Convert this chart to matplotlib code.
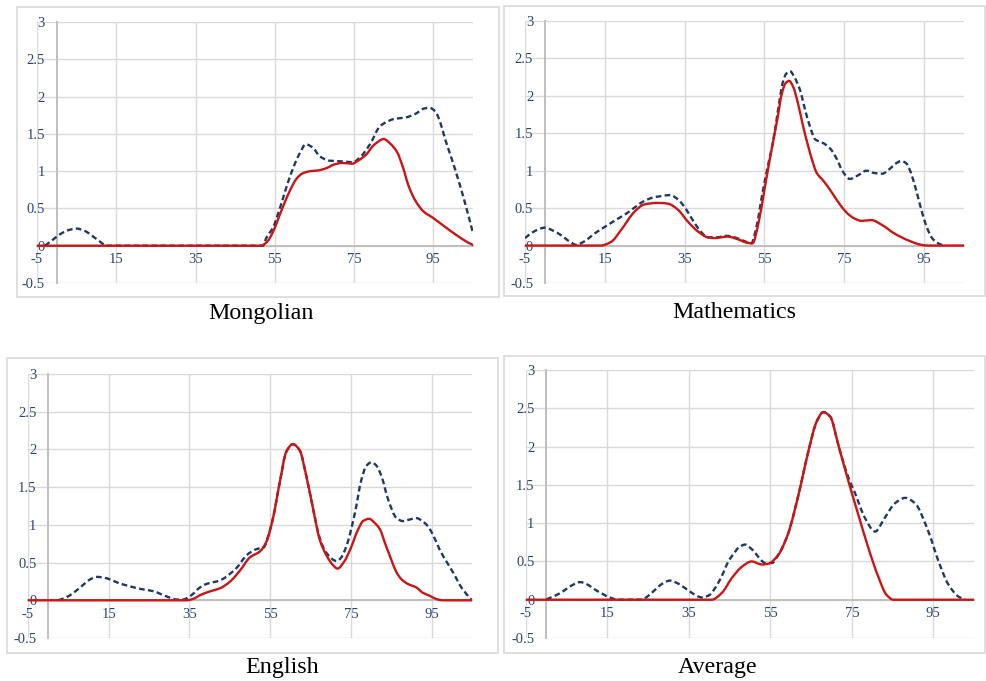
import matplotlib
matplotlib.use("Agg")
import numpy as np
import matplotlib.pyplot as plt
from matplotlib.patches import Rectangle, PathPatch
from matplotlib.path import Path

plt.rcParams['font.family'] = ['Liberation Serif', 'DejaVu Serif']

# density curves per subject: dashed = all students, solid = sample group
mong_dash_x = [-3, -1, 1, 3, 5, 7, 9, 11, 12.5, 52, 52.9, 54.5, 56.2, 57.9, 59.6, 61.3, 62.8, 64.7, 66.3,
               68.9, 72.2, 74.7, 76.4, 79, 81.5, 83.2, 85.1, 88, 90.2, 92.7, 94, 95.5, 96.7, 97.9, 99.6,
               101.2, 102.9, 104.6, 105]
mong_dash_y = [0.0, 0.08, 0.16, 0.21, 0.23, 0.2, 0.13, 0.05, 0.0, 0.0, 0.11, 0.24, 0.49, 0.78, 1.04, 1.24,
               1.36, 1.31, 1.2, 1.14, 1.13, 1.12, 1.18, 1.36, 1.6, 1.66, 1.7, 1.72, 1.76, 1.84, 1.85, 1.8,
               1.66, 1.44, 1.17, 0.9, 0.59, 0.25, 0.17]
mong_red_x = [-5, 51.5, 53, 54.5, 56, 57.5, 59, 60.5, 62, 64, 66, 68, 70, 72, 74.5, 76, 78, 80, 82.5,
              84.1, 85.8, 87.4, 88.7, 90.4, 92.5, 95, 98, 100.9, 103.5, 105]
mong_red_y = [0.0, 0.0, 0.05, 0.18, 0.38, 0.58, 0.76, 0.9, 0.97, 1.0, 1.01, 1.04, 1.09, 1.11, 1.1, 1.14,
              1.22, 1.35, 1.43, 1.37, 1.26, 1.04, 0.81, 0.61, 0.46, 0.37, 0.25, 0.14, 0.05, 0.01]

math_dash_x = [-5, -3, -1, 0, 2, 4, 6, 7.8, 10, 12.4, 15, 18, 20.75, 23, 25, 27, 29, 31.5, 33, 34.5, 36,
               37.5, 39, 40.8, 43, 45.5, 47.5, 49.5, 51.7, 53, 54.5, 56, 57.2, 58.4, 59.7, 60.5, 61.4,
               62.5, 63.9, 65.2, 66.4, 67.7, 69.7, 71.4, 73.2, 74.5, 76.4, 78.5, 80.5, 82.5, 84.5, 86.5,
               88, 89.3, 90.5, 91.5, 92.7, 94.3, 95.5, 97, 98.5, 100]
math_dash_y = [0.1, 0.18, 0.23, 0.24, 0.2, 0.14, 0.06, 0.01, 0.06, 0.16, 0.25, 0.35, 0.44, 0.53, 0.6, 0.64,
               0.66, 0.675, 0.63, 0.55, 0.43, 0.3, 0.19, 0.11, 0.11, 0.13, 0.11, 0.07, 0.03, 0.25, 0.7, 1.1,
               1.4, 1.81, 2.2, 2.3, 2.33, 2.25, 2.08, 1.81, 1.59, 1.42, 1.37, 1.3, 1.15, 1.0, 0.89, 0.94,
               1.0, 0.97, 0.96, 1.03, 1.1, 1.13, 1.1, 1.0, 0.8, 0.48, 0.27, 0.1, 0.03, 0.0]
math_red_x = [-5, 14, 16.6, 19.1, 22.4, 24.9, 28.3, 30.8, 33.3, 35.8, 38.3, 40.8, 42.5, 45.8, 48.3, 50.5,
              52, 53.5, 55, 56.4, 58.2, 59.4, 60.3, 61.2, 62.2, 63.4, 64.7, 66, 66.9, 68, 70, 72, 74.3,
              76, 77.6, 79.3, 81.8, 84.3, 87.6, 91, 94.3, 96, 105]
math_red_y = [0.0, 0.0, 0.05, 0.21, 0.45, 0.55, 0.57, 0.56, 0.48, 0.32, 0.19, 0.11, 0.1, 0.12, 0.085, 0.04,
              0.03, 0.3, 0.75, 1.17, 1.68, 2.04, 2.17, 2.2, 2.12, 1.9, 1.59, 1.32, 1.15, 0.98, 0.85, 0.7,
              0.52, 0.42, 0.36, 0.33, 0.34, 0.28, 0.16, 0.07, 0.01, 0.0, 0.0]

eng_dash_x = [2.5, 4.5, 6.3, 8.8, 10.5, 12.1, 14.6, 16.5, 17.9, 20, 22, 24, 26.1, 28, 29.4, 31.9, 33.5,
              34.4, 36, 36.9, 38.2, 39.4, 41.8, 43.2, 44.3, 46.7, 49.2, 51.7, 53.4, 54.5, 55.7, 57.4, 59,
              60.6, 62.3, 63.9, 65.6, 67.3, 68.9, 71.5, 72.5, 73.9, 76, 77.6, 78.8, 80.1, 81.4, 82.6,
              84.2, 86.3, 87.9, 89.5, 91.2, 92.7, 94.1, 95.5, 97, 98.6, 100.3, 102.5, 104.8]
eng_dash_y = [0.0, 0.04, 0.1, 0.21, 0.28, 0.31, 0.29, 0.25, 0.22, 0.19, 0.16, 0.14, 0.12, 0.08, 0.05, 0.01,
              0.01, 0.03, 0.09, 0.14, 0.19, 0.22, 0.25, 0.28, 0.32, 0.43, 0.6, 0.68, 0.7, 0.85, 1.09, 1.57,
              1.97, 2.07, 1.99, 1.66, 1.22, 0.82, 0.63, 0.52, 0.56, 0.72, 1.16, 1.6, 1.78, 1.83, 1.78,
              1.64, 1.34, 1.09, 1.05, 1.07, 1.09, 1.05, 0.98, 0.85, 0.67, 0.52, 0.37, 0.16, 0.01]
eng_red_x = [-5, 34.4, 36, 37.7, 40.2, 42.6, 45.1, 47.6, 50, 52.5, 54.1, 55.7, 57.4, 59, 60.6, 62.3, 63.9,
             65.6, 67.3, 68.9, 70.5, 71.7, 73.3, 74.8, 76.8, 78, 79.5, 81, 82.2, 83.5, 85, 86.2, 87.5,
             89, 91.2, 92.8, 94.5, 96, 97.8, 105]
eng_red_y = [0.0, 0.0, 0.02, 0.07, 0.12, 0.16, 0.25, 0.4, 0.57, 0.65, 0.78, 1.09, 1.57, 1.97, 2.07, 1.99,
             1.66, 1.22, 0.8, 0.6, 0.47, 0.42, 0.51, 0.67, 0.94, 1.05, 1.08, 1.02, 0.94, 0.75, 0.54, 0.38,
             0.28, 0.22, 0.17, 0.1, 0.06, 0.02, 0.0, 0.0]

avg_dash_x = [0, 2, 3.8, 6, 8.3, 10, 12, 14, 15.3, 17.7, 23.4, 25, 26.7, 28.5, 30.4, 32, 34.1, 36, 38.2,
              40, 41.4, 43, 44.7, 46, 47.2, 48.8, 50, 51.3, 52.5, 53.7, 55.4, 57, 59.4, 61.9, 64.3, 66.4,
              68, 69.7, 71.7, 73, 74.2, 75.8, 78.2, 80.7, 83.1, 85.6, 88.1, 90.5, 93.8, 96.3, 98.7,
              101.2, 102.8]
avg_dash_y = [0.005, 0.05, 0.1, 0.18, 0.23, 0.2, 0.13, 0.07, 0.035, 0.0, 0.0, 0.05, 0.13, 0.21, 0.25, 0.22,
              0.15, 0.08, 0.03, 0.06, 0.15, 0.3, 0.5, 0.6, 0.68, 0.72, 0.68, 0.61, 0.53, 0.48, 0.48, 0.59,
              0.87, 1.37, 1.93, 2.33, 2.45, 2.39, 2.02, 1.78, 1.59, 1.39, 1.07, 0.89, 1.07, 1.26, 1.33,
              1.26, 0.89, 0.5, 0.2, 0.04, 0.0]
avg_red_x = [-5, 40.6, 43.1, 45.5, 48, 50.4, 52.9, 54.5, 57, 59.4, 61.9, 64.3, 66.4, 68, 69.7, 71.7, 74.2,
             76.6, 79.1, 81.5, 83.5, 85.2, 105]
avg_red_y = [0.0, 0.0, 0.09, 0.28, 0.43, 0.5, 0.46, 0.47, 0.59, 0.87, 1.37, 1.93, 2.33, 2.45, 2.39, 2.02,
             1.54, 1.11, 0.67, 0.3, 0.065, 0.0, 0.0]

subjects = ['Mongolian', 'Mathematics', 'English', 'Average']
x_ticks = [-5, 15, 35, 55, 75, 95]
y_ticks = [-0.5, 0, 0.5, 1, 1.5, 2, 2.5, 3]
y_labels = ['-0.5', '0', '0.5', '1', '1.5', '2', '2.5', '3']


def smooth_path(xs, ys):
    # smoothed line: cubic bezier segments through every point, monotone tangents
    x = np.asarray(xs, float)
    y = np.asarray(ys, float)
    h = np.diff(x)
    d = np.diff(y) / h
    m = np.zeros_like(x)
    m[0], m[-1] = d[0], d[-1]
    for k in range(1, len(x) - 1):
        if d[k - 1] * d[k] > 0:
            w1 = 2 * h[k] + h[k - 1]
            w2 = h[k] + 2 * h[k - 1]
            m[k] = (w1 + w2) / (w1 / d[k - 1] + w2 / d[k])
    verts = [(x[0], y[0])]
    codes = [Path.MOVETO]
    for k in range(len(x) - 1):
        verts += [(x[k] + h[k] / 3, y[k] + m[k] * h[k] / 3),
                  (x[k + 1] - h[k] / 3, y[k + 1] - m[k + 1] * h[k] / 3),
                  (x[k + 1], y[k + 1])]
        codes += [Path.CURVE4] * 3
    return Path(verts, codes)


W, H = 987, 681
fig = plt.figure(figsize=(W / 100, H / 100), dpi=100)


def box(l, t, r, b):
    return [l / W, 1 - b / H, (r - l) / W, (b - t) / H]


# plot areas, outer frames and title centres in pixels
plot_boxes = [(37, 22, 473, 283), (525, 21, 964, 283), (28, 374, 472, 638), (526, 370, 974, 638)]
frames = [(17, 7, 499, 297), (504, 6, 985, 296), (7, 358, 498, 653), (504, 356, 985, 653)]
titles = [(261, 313), (734, 312), (282, 668), (718, 668)]
series = [(mong_dash_x, mong_dash_y, mong_red_x, mong_red_y),
          (math_dash_x, math_dash_y, math_red_x, math_red_y),
          (eng_dash_x, eng_dash_y, eng_red_x, eng_red_y),
          (avg_dash_x, avg_dash_y, avg_red_x, avg_red_y)]

for i, name in enumerate(subjects):
    l, t, r, b = frames[i]
    fig.add_artist(Rectangle((l / W, 1 - b / H), (r - l) / W, (b - t) / H, transform=fig.transFigure,
                             fill=False, edgecolor='#D9D9D9', lw=1.2))
    ax = fig.add_axes(box(*plot_boxes[i]))
    dx, dy, rx, ry = series[i]
    ax.add_patch(PathPatch(smooth_path(dx, dy), fill=False, edgecolor='#1F3864', lw=1.7,
                           linestyle=(0, (2.4, 1.4)), capstyle='butt', zorder=3))
    ax.add_patch(PathPatch(smooth_path(rx, ry), fill=False, edgecolor='#CC1414', lw=1.7,
                           joinstyle='round', capstyle='round', zorder=4))
    ax.set_xlim(-5, 105)
    ax.set_ylim(-0.5, 3)
    ax.set_xticks(x_ticks)
    ax.set_xticklabels([str(v) for v in x_ticks])
    ax.set_yticks(y_ticks)
    ax.set_yticklabels(y_labels)
    ax.grid(True, color='#D9D9D9', lw=1.0)
    ax.set_axisbelow(True)
    for s in ['top', 'right']:
        ax.spines[s].set_visible(False)
    ax.spines['left'].set_position(('data', 0))
    ax.spines['bottom'].set_position(('data', 0))
    for s in ['left', 'bottom']:
        ax.spines[s].set_color('#BFBFBF')
        ax.spines[s].set_linewidth(1.4)
    ax.tick_params(axis='both', length=0, labelsize=10.5, labelcolor='#2E4272')
    ax.tick_params(axis='y', pad=8.5)
    ax.tick_params(axis='x', pad=5.5)
    fig.text(titles[i][0] / W, 1 - titles[i][1] / H, name, ha='center', va='center',
             fontsize=17.3, color='black')

fig.savefig('out.png', dpi=100)
